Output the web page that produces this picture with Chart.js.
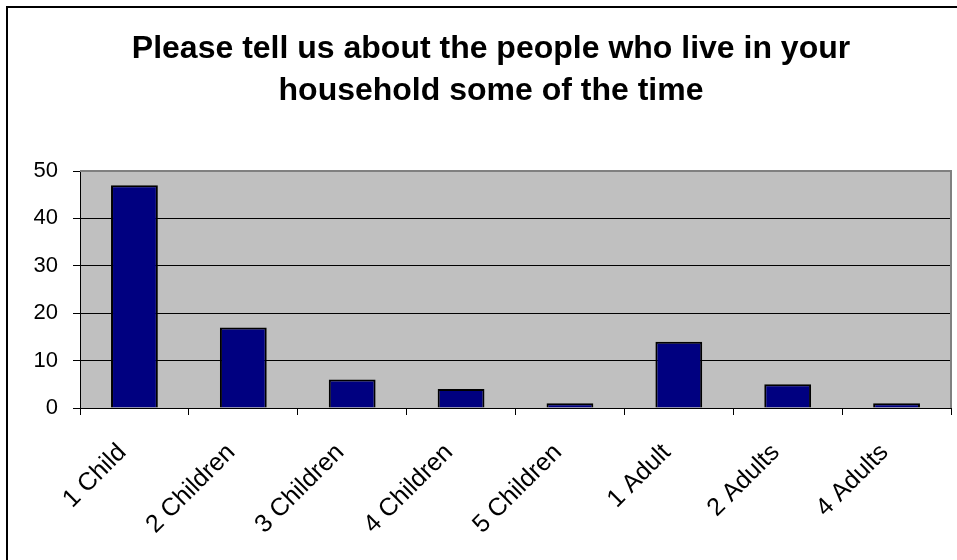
<!DOCTYPE html>
<html>
<head>
<meta charset="utf-8">
<script src="https://cdn.jsdelivr.net/npm/chart.js@4.4.1/dist/chart.umd.min.js"></script>
<style>
  html, body { margin: 0; padding: 0; background: #ffffff; overflow: hidden; }
  #wrap { width: 957px; height: 560px; position: relative; }
</style>
</head>
<body>
<div id="wrap"><canvas id="c" width="957" height="560"></canvas></div>
<script>
const titleLines = ["Please tell us about the people who live in your", "household some of the time"];
const categories = ["1 Child", "2 Children", "3 Children", "4 Children", "5 Children", "1 Adult", "2 Adults", "4 Adults"];
const counts = [47, 17, 6, 4, 1, 14, 5, 1];
const yTicks = [0, 10, 20, 30, 40, 50];

const FONT = "'Liberation Sans', Arial, Helvetica, sans-serif";

const frame = {
  id: 'frame',
  beforeDraw(chart) {
    const {ctx, chartArea: a} = chart;
    ctx.save();
    ctx.fillStyle = '#ffffff';
    ctx.fillRect(0, 0, chart.width, chart.height);
    ctx.fillStyle = '#C0C0C0';
    ctx.fillRect(a.left, a.top, a.right - a.left, a.bottom - a.top);
    ctx.restore();
  },
  afterDraw(chart) {
    const {ctx, chartArea: a} = chart;
    ctx.save();
    ctx.strokeStyle = '#808080';
    ctx.lineWidth = 2;
    ctx.beginPath();
    ctx.moveTo(a.left, a.top);
    ctx.lineTo(a.right, a.top);
    ctx.lineTo(a.right, a.bottom);
    ctx.stroke();
    ctx.strokeStyle = '#000000';
    ctx.lineWidth = 2;
    ctx.beginPath();
    ctx.moveTo(7, chart.height + 5);
    ctx.lineTo(7, 7);
    ctx.lineTo(chart.width + 5, 7);
    ctx.stroke();
    ctx.restore();
  }
};

new Chart(document.getElementById('c'), {
  type: 'bar',
  data: {
    labels: categories,
    datasets: [{
      data: counts,
      backgroundColor: '#000080',
      borderColor: '#000000',
      borderWidth: 2,
      categoryPercentage: 1.0,
      barPercentage: 0.43
    }]
  },
  options: {
    responsive: false,
    animation: false,
    devicePixelRatio: 1,
    layout: { padding: { left: 31, right: 6, top: 7, bottom: 0 } },
    plugins: {
      legend: { display: false },
      tooltip: { enabled: false },
      title: {
        display: true,
        text: titleLines,
        color: '#000000',
        font: { family: FONT, size: 32, weight: 'bold', lineHeight: 42 / 32 },
        padding: { top: 21, bottom: 59 }
      }
    },
    scales: {
      x: {
        grid: { display: true, drawOnChartArea: false, drawTicks: true, tickLength: 7, color: '#000000', tickColor: '#000000', offset: true },
        border: { display: true, color: '#000000', width: 1 },
        ticks: {
          color: '#000000',
          font: { family: FONT, size: 25 },
          minRotation: 45,
          maxRotation: 45,
          padding: 23,
          labelOffset: -12
        },
        afterFit(scale) { scale.height = 152; }
      },
      y: {
        min: 0,
        max: 50,
        afterBuildTicks(scale) { scale.ticks = yTicks.map(v => ({ value: v })); },
        grid: {
          color: (c) => (c.tick && c.tick.value === 50) ? 'rgba(0,0,0,0)' : '#000000',
          tickColor: '#000000',
          lineWidth: 1,
          tickLength: 7,
          drawTicks: true
        },
        border: { display: true, color: '#000000', width: 1 },
        ticks: {
          color: '#000000',
          font: { family: FONT, size: 22 },
          padding: 15
        },
        afterFit(scale) { scale.width = 49; }
      }
    }
  },
  plugins: [frame]
});
</script>
</body>
</html>
